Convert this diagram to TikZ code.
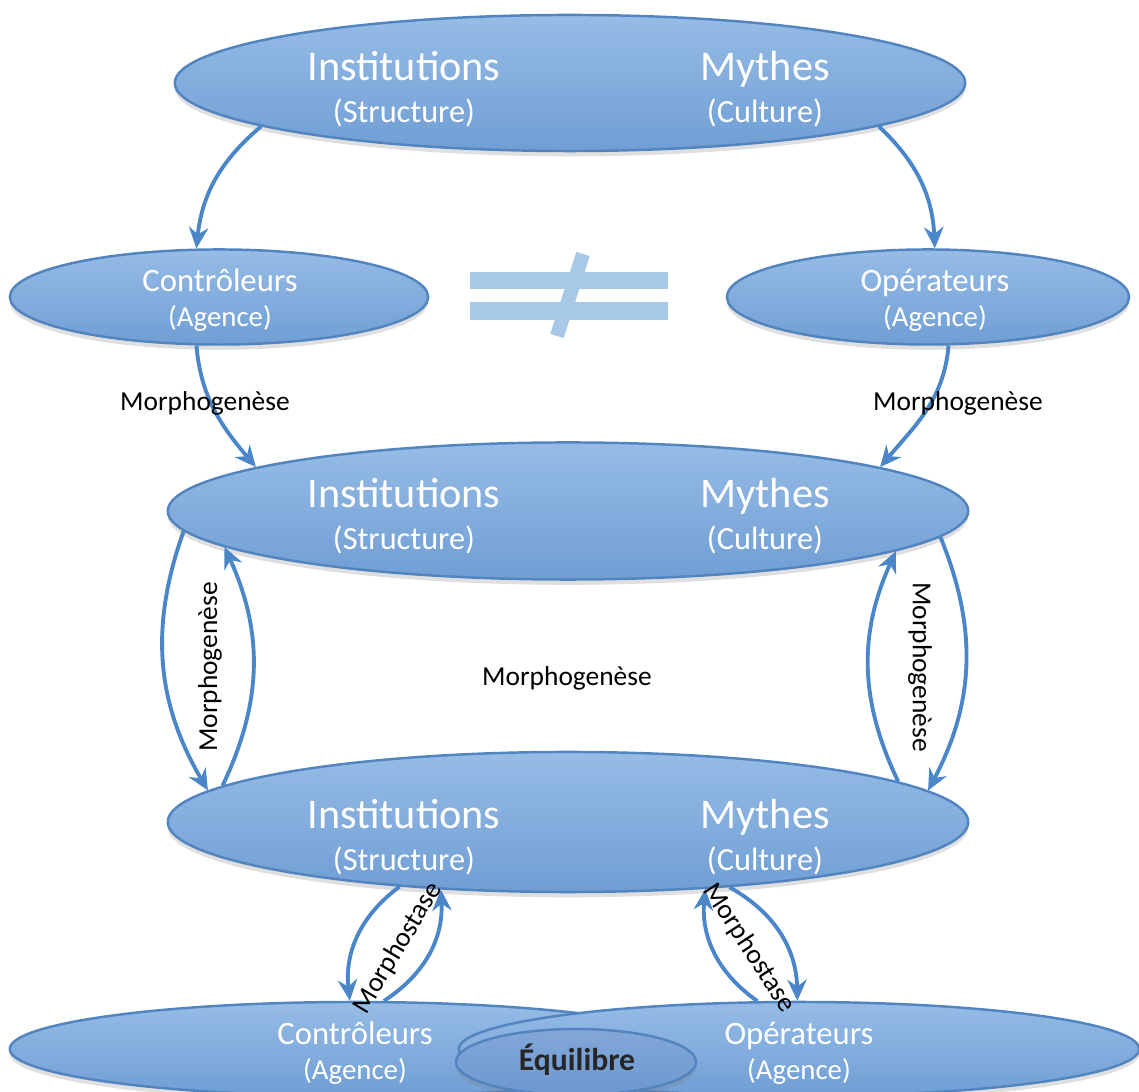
\documentclass[tikz,border=0pt]{standalone}
\usepackage{fontspec}
\setmainfont{Carlito}
\usetikzlibrary{shapes.geometric,arrows.meta,shadows}

\definecolor{elltop}{RGB}{150,188,230}
\definecolor{ellbot}{RGB}{112,158,212}
\definecolor{elldraw}{RGB}{82,132,192}
\definecolor{flowblue}{RGB}{74,134,200}
\definecolor{neqblue}{RGB}{168,200,232}
\definecolor{equifill}{RGB}{108,152,208}

\begin{document}
\begin{tikzpicture}[x=0.01cm, y=0.01cm,
    blob/.style={ellipse, draw=elldraw, line width=0.7pt, top color=elltop, bottom color=ellbot, inner sep=0pt,
        drop shadow={shadow xshift=0pt, shadow yshift=-1.5pt, opacity=0.25}},
    bigtxt/.style={text=white, align=center, font=\fontsize{12}{12}\selectfont},
    smalltxt/.style={text=white, align=center, font=\fontsize{9.3}{10}\selectfont},
    lbl/.style={font=\fontsize{7.8}{8}\selectfont, inner sep=0pt},
    flow/.style={draw=flowblue, line width=1.1pt, -{Stealth[length=6pt,width=5.5pt]}}
]
    \useasboundingbox (0,0) rectangle (1139,-1092);
    \clip (0,0) rectangle (1139,-1092);

    % the three big ellipses
    \node[blob, minimum width=7.9cm, minimum height=1.36cm] (top) at (570,-83) {};
    \node[blob, minimum width=8.0cm, minimum height=1.37cm] (mid) at (568,-511) {};
    \node[blob, minimum width=8.0cm, minimum height=1.40cm] (low) at (568,-822) {};

    \node[bigtxt] (topI) at (404,-89) {Institutions\\{\fontsize{9.2}{11}\selectfont(Structure)}};
    \node[bigtxt] (topM) at (765,-89) {Mythes\\{\fontsize{9.2}{11}\selectfont(Culture)}};
    \node[bigtxt] (midI) at (404,-516) {Institutions\\{\fontsize{9.2}{11}\selectfont(Structure)}};
    \node[bigtxt] (midM) at (765,-516) {Mythes\\{\fontsize{9.2}{11}\selectfont(Culture)}};
    \node[bigtxt] (lowI) at (404,-837) {Institutions\\{\fontsize{9.2}{11}\selectfont(Structure)}};
    \node[bigtxt] (lowM) at (765,-837) {Mythes\\{\fontsize{9.2}{11}\selectfont(Culture)}};

    % agents
    \node[blob, minimum width=4.18cm, minimum height=0.95cm] (ctrlA) at (219,-297) {};
    \node[blob, minimum width=4.02cm, minimum height=0.95cm] (operA) at (928,-297) {};
    \node[smalltxt] (ctrlAt) at (220,-300) {Contrôleurs\\{\fontsize{8.2}{9}\selectfont(Agence)}};
    \node[smalltxt] (operAt) at (935,-300) {Opérateurs\\{\fontsize{8.2}{9}\selectfont(Agence)}};

    % not equal
    \fill[neqblue] (470,-272) rectangle (668,-289);
    \fill[neqblue] (470,-302) rectangle (668,-320);
    \draw[neqblue, line width=0.14cm] (583,-254) -- (557,-336);

    % bottom row
    \node[blob, minimum width=6.9cm, minimum height=0.94cm] (ctrlB) at (355,-1049) {};
    \node[blob, minimum width=6.8cm, minimum height=0.94cm] (operB) at (799,-1049) {};
    \node[blob, top color=equifill!85!white, bottom color=equifill, minimum width=2.4cm, minimum height=0.66cm] (equi) at (576,-1062) {};
    \node[smalltxt] (ctrlBt) at (355,-1053) {Contrôleurs\\{\fontsize{8.2}{9}\selectfont(Agence)}};
    \node[smalltxt] (operBt) at (799,-1053) {Opérateurs\\{\fontsize{8.2}{9}\selectfont(Agence)}};
    \node[font=\bfseries\fontsize{9}{10}\selectfont, text=black!85] (equit) at (577,-1060) {Équilibre};

    % arrows
    \draw[flow] (top.188) to[bend right=22] (ctrlA.115);
    \draw[flow] (top.-8) to[bend left=22] (operA.82);
    \draw[flow] (ctrlA.245) to[out=-85, in=130] (mid.172);
    \draw[flow] (operA.-67) to[out=-95, in=50] (mid.8);

    \draw[flow] (mid.183) to[bend right=25] (low.175);
    \draw[flow] (low.174) to[bend right=25] (mid.186);
    \draw[flow] (low.7) to[bend left=25] (mid.-7);
    \draw[flow] (mid.-4) to[bend left=25] (low.5);

    \draw[flow] (low.201) to[bend right=30] (ctrlB.96);
    \draw[flow] (ctrlB.59) to[bend right=30] (low.208);
    \draw[flow] (operB.131) to[bend left=30] (low.-26);
    \draw[flow] (low.-22) to[bend left=30] (operB.92);

    % labels
    \node[lbl] (mg1) at (205,-403) {Morphogenèse};
    \node[lbl] (mg2) at (958,-403) {Morphogenèse};
    \node[lbl, rotate=90] (mg3) at (210,-667) {Morphogenèse};
    \node[lbl, rotate=-90] (mg4) at (920,-667) {Morphogenèse};
    \node[lbl] (mg5) at (567,-678) {Morphogenèse};
    \node[lbl, rotate=59] (ms1) at (398,-948) {Morphostase};
    \node[lbl, rotate=-57] (ms2) at (749,-948) {Morphostase};
\end{tikzpicture}
\end{document}
